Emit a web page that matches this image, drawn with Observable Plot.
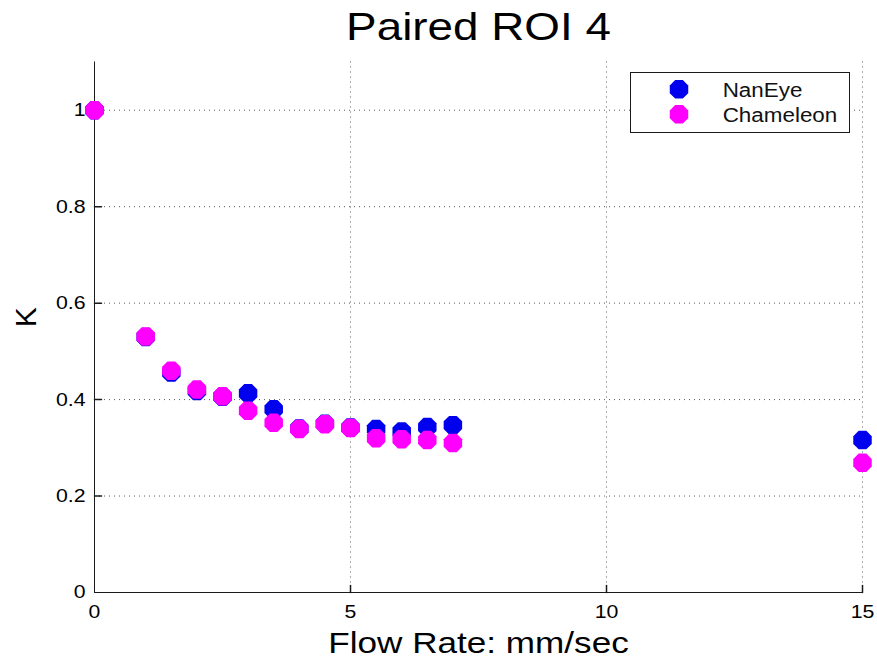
<!DOCTYPE html>
<html><head><meta charset="utf-8">
<script src="https://cdn.jsdelivr.net/npm/d3@7"></script>
<script src="https://cdn.jsdelivr.net/npm/@observablehq/plot@0.6"></script>
<style>
html,body{margin:0;padding:0;background:#fff;}
#wrap{position:relative;width:877px;height:659px;overflow:hidden;}
#legend{position:absolute;left:0;top:0;pointer-events:none;}
</style></head><body><div id="wrap"></div>
<script>
const flowRate = [0, 1, 1.5, 2, 2.5, 3, 3.5, 4, 4.5, 5, 5.5, 6, 6.5, 7, 15];
const nanEye = [1.0, 0.53, 0.456, 0.418, 0.406, 0.413, 0.380, 0.340, 0.350, 0.342, 0.339, 0.334, 0.343, 0.347, 0.316];
const chameleon = [1.0, 0.531, 0.460, 0.421, 0.407, 0.377, 0.352, 0.339, 0.349, 0.341, 0.320, 0.318, 0.316, 0.310, 0.269];
const seriesNames = ["NanEye", "Chameleon"];
const seriesColors = ["#0000ee", "#ff00ff"];
const xTicks = [0, 5, 10, 15];
const xTickLabels = ["0", "5", "10", "15"];
const yTicks = [0, 0.2, 0.4, 0.6, 0.8, 1];
const yTickLabels = ["0", "0.2", "0.4", "0.6", "0.8", "1"];
const titleText = "Paired ROI 4";
const xLabel = "Flow Rate: mm/sec";
const yLabel = "K";

const seriesValues = [nanEye, chameleon];
const rows = [];
seriesNames.forEach((s, si) => flowRate.forEach((x, i) => rows.push({series: s, x, k: seriesValues[si][i]})));

const octagon = {draw(ctx, size) {
  const r = Math.sqrt(size / Math.PI);
  for (let i = 0; i < 8; i++) {
    const a = Math.PI / 8 + i * Math.PI / 4;
    const px = r * Math.cos(a), py = r * Math.sin(a);
    if (i) ctx.lineTo(px, py); else ctx.moveTo(px, py);
  }
  ctx.closePath();
}};
const tickShape = {draw(ctx, l) { ctx.moveTo(0, 0); ctx.lineTo(0, -l); }};

const font = "'Liberation Sans', Arial, Helvetica, sans-serif";
const gridStyle = {stroke: "#000", strokeOpacity: 0.65, strokeDasharray: "1,4"};
const axisColor = "#1a1a1a";

const plot = Plot.plot({
  width: 877, height: 659,
  marginLeft: 94, marginRight: 15, marginTop: 61.5, marginBottom: 67,
  style: {fontFamily: font, background: "#fff", color: "#000"},
  x: {domain: [0, 15]},
  y: {domain: [0, 1.1]},
  color: {domain: seriesNames, range: seriesColors},
  marks: [
    Plot.gridY(yTicks.slice(1), gridStyle),
    Plot.gridX(xTicks.slice(1), gridStyle),
    Plot.ruleX([0], {stroke: axisColor}),
    Plot.ruleY([0], {stroke: axisColor}),
    Plot.vector(yTicks.slice(1), {x: () => 0, y: d => d, length: 7, rotate: 90, anchor: "start", shape: tickShape, stroke: axisColor}),
    Plot.vector(xTicks.slice(1), {x: d => d, y: () => 0, length: 7, rotate: 0, anchor: "start", shape: tickShape, stroke: axisColor}),
    Plot.axisY(yTicks, {tickSize: 0, tickPadding: 9, fontSize: 18.5, label: null,
      tickFormat: d => yTickLabels[yTicks.indexOf(d)]}),
    Plot.axisX(xTicks, {tickSize: 0, tickPadding: 12, fontSize: 18.5, label: null,
      tickFormat: d => xTickLabels[xTicks.indexOf(d)]}),
    Plot.dot(rows, {x: "x", y: "k", fill: "series", r: 10, symbol: octagon}),
    Plot.text([titleText], {text: d => d, frameAnchor: "top", lineAnchor: "bottom", dy: -22, fontSize: 38.5, fill: "#000"}),
    Plot.text([xLabel], {text: d => d, frameAnchor: "bottom", lineAnchor: "bottom", dy: 60.7, fontSize: 29.5, fill: "#000"}),
    Plot.text([yLabel], {text: d => d, frameAnchor: "left", rotate: -90, lineAnchor: "middle", dx: -68.5, fontSize: 30, fill: "#000"})
  ]
});
const wrap = document.getElementById("wrap");
wrap.appendChild(plot);

// legend overlay
const leg = d3.select(wrap).append("svg").attr("id", "legend").attr("width", 877).attr("height", 659)
  .style("font-family", font);
leg.append("rect").attr("x", 630.5).attr("y", 72.5).attr("width", 219).attr("height", 60)
  .attr("fill", "#fff").attr("stroke", axisColor);
seriesNames.forEach((s, i) => {
  const p = d3.path(); octagon.draw(p, Math.PI * 100);
  leg.append("path").attr("d", p.toString()).attr("transform", `translate(679,${89.3 + 25 * i})`).attr("fill", seriesColors[i]);
  leg.append("text").attr("x", 722.7).attr("y", 96.5 + 25 * i).attr("font-size", 20).attr("fill", "#111").text(s);
});

// horizontal stretch of text to mimic the reference rendering
function stretchText(t, f) {
  const L = t.getComputedTextLength();
  if (L > 0) { t.setAttribute("textLength", (L * f).toFixed(1)); t.setAttribute("lengthAdjust", "spacingAndGlyphs"); }
}
plot.querySelectorAll("text").forEach(t => {
  if (t.textContent === yLabel) return;
  const fs = parseFloat(getComputedStyle(t).fontSize);
  stretchText(t, fs > 25 ? 1.19 : 1.15);
});
leg.selectAll("text").each(function() { stretchText(this, 1.12); });
</script></body></html>
